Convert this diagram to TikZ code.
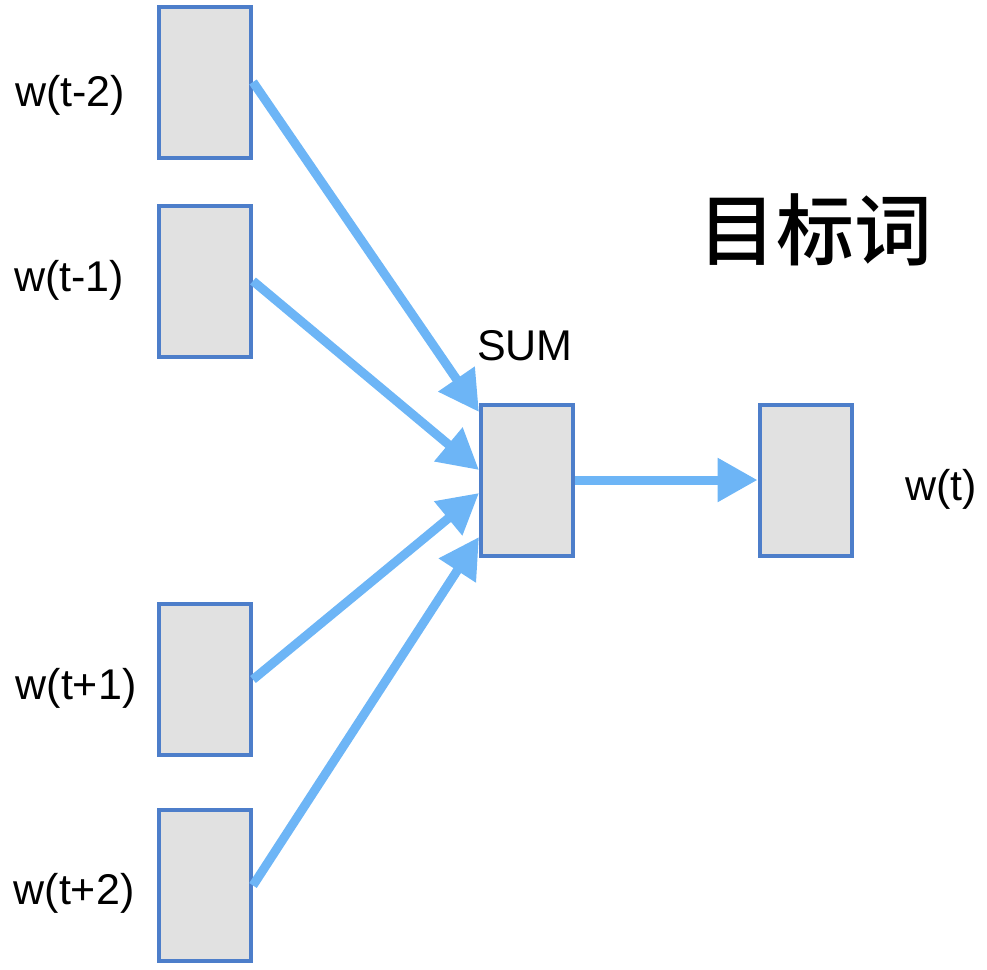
\documentclass[tikz,border=0pt]{standalone}
\usepackage{fontspec}
\setmainfont{Liberation Sans}
\newfontfamily\cjk{Noto Sans CJK SC}[UprightFont={* Medium}]
\usetikzlibrary{arrows.meta}
\definecolor{boxfill}{HTML}{E1E1E1}
\definecolor{boxline}{HTML}{4D7ECA}
\definecolor{edgeblue}{HTML}{6DB5F6}
\tikzset{
  cell/.style={draw=boxline,fill=boxfill,line width=2pt,minimum width=46pt,minimum height=75.5pt,inner sep=0pt},
  word/.style={font=\fontsize{21.5pt}{24pt}\selectfont,inner sep=0pt},
  link/.style={draw=edgeblue,line width=4.5pt,-{Triangle[length=20pt,width=21pt]}}
}
\begin{document}
\begin{tikzpicture}[x=0.5pt,y=-0.5pt]
\useasboundingbox (0,0) rectangle (987,970);
\node[cell] (c1) at (205,82) {};
\node[cell] (c2) at (205,281) {};
\node[cell] (c3) at (205,679.5) {};
\node[cell] (c4) at (205,885.5) {};
\node[cell] (sum) at (527,480) {};
\node[cell] (out) at (805.5,480) {};
\node[word] (l1) at (70,95) {w(t-2)};
\node[word] (l2) at (69,280) {w(t-1)};
\node[word] (l3) at (76,688) {w(t+1)};
\node[word] (l4) at (74,893) {w(t+2)};
\node[word] (lsum) at (525,346) {SUM};
\node[word] (lout) at (941,489) {w(t)};
\node[inner sep=0pt,font=\cjk\fontsize{39pt}{44pt}\selectfont] (title) at (815,230) {目标词};
\draw[link] (c1.east) -- ([yshift=34pt]sum.west);
\draw[link] (c2.east) -- ([yshift=5pt]sum.west);
\draw[link] (c3.east) -- ([yshift=-6.5pt]sum.west);
\draw[link] (c4.east) -- ([yshift=-28.5pt]sum.west);
\draw[link] (sum.east) -- (out.west);
\end{tikzpicture}
\end{document}
